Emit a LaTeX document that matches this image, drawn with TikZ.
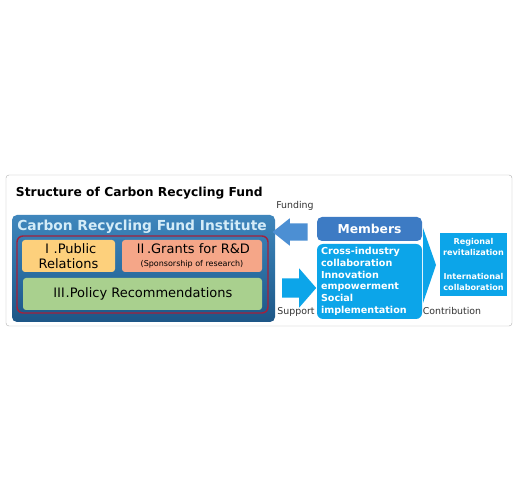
\documentclass[tikz,border=0pt]{standalone}
\usepackage{fontspec}
\setmainfont{DejaVu Sans}
\newfontfamily\jpfont{Noto Sans CJK JP}
\usetikzlibrary{shapes.arrows,positioning,calc}

\definecolor{framegray}{HTML}{B0B0B0}
\definecolor{instdark}{HTML}{1D5686}
\definecolor{instmid}{HTML}{2C70A4}
\definecolor{instlight}{HTML}{3F86BC}
\definecolor{insttext}{HTML}{D4ECF8}
\definecolor{redline}{HTML}{A3213C}
\definecolor{prfill}{HTML}{FDD07C}
\definecolor{grantfill}{HTML}{F5A688}
\definecolor{policyfill}{HTML}{A9D08E}
\definecolor{memberblue}{HTML}{3D7BC4}
\definecolor{fundblue}{HTML}{4C8FD3}
\definecolor{skyblue}{HTML}{0CA5E9}
\definecolor{labelgray}{HTML}{333333}

\begin{document}
\begin{tikzpicture}[
    x=1pt, y=-1pt,
    every node/.style={inner sep=0pt, outer sep=0pt},
    pillar/.style={rectangle, rounded corners=3pt, align=center, text=black,
                   font=\fontsize{13}{15.5}\selectfont},
    bluebox/.style={rectangle, rounded corners=6pt, fill=skyblue, text=white},
    flowlabel/.style={text=labelgray, font=\fontsize{9.4}{11}\selectfont},
    blockarrow/.style={single arrow, single arrow head indent=0pt, draw=none, inner xsep=0pt}
]
\useasboundingbox (0,0) rectangle (519,502);

% ============ FRAME AND TITLE ============
\draw[framegray, fill=white, rounded corners=3pt] (6,175) rectangle (512,326);
\node[anchor=west, font=\bfseries\fontsize{12.3}{14}\selectfont] (title) at (16,193)
    {Structure of Carbon Recycling Fund};

% ============ INSTITUTE (LEFT) ============
\node[rectangle, rounded corners=5pt, minimum width=263pt, minimum height=107pt,
      top color=instlight, bottom color=instdark, middle color=instmid]
      (institute) at (143.5,268.5) {};
\node[font=\bfseries\fontsize{13.8}{16}\selectfont, text=insttext] (insttitle)
    at (142,227) {Carbon Recycling Fund Institute};

\node[pillar, fill=prfill, minimum width=93pt, minimum height=32pt] (pr) at (68.5,256)
    {{\jpfont Ⅰ}.Public\\Relations};
\node[pillar, fill=grantfill, minimum width=140pt, minimum height=32pt] (grants) at (192,256)
    {{\jpfont Ⅱ}.Grants for R\&D\\[-2.5pt]{\fontsize{8}{9}\selectfont (Sponsorship of research)}};
\node[pillar, fill=policyfill, minimum width=239pt, minimum height=32pt] (policy) at (142.5,294)
    {{\jpfont Ⅲ}.Policy Recommendations};

\draw[redline, line width=1.4pt, rounded corners=6pt] (17,236) rectangle (268,313);

% ============ FUNDING / SUPPORT ARROWS ============
\node[blockarrow, fill=fundblue, shape border rotate=180, minimum height=35pt,
      inner ysep=8.5pt, single arrow head extend=5pt, single arrow tip angle=77]
      (fundarrow) at (295.5,232) {};
\node[flowlabel] (fundlabel) at (295,206) {Funding};

\node[blockarrow, fill=skyblue, minimum height=34pt,
      inner ysep=9.5pt, single arrow head extend=10pt, single arrow tip angle=98]
      (supparrow) at (295,288) {};
\node[flowlabel] (supplabel) at (296,312) {Support};

% ============ MEMBERS (MIDDLE) ============
\node[rectangle, rounded corners=5pt, fill=memberblue, text=white,
      minimum width=105pt, minimum height=24pt,
      font=\bfseries\fontsize{12.3}{14}\selectfont] (members) at (369.5,229) {Members};
\node[bluebox, minimum width=105pt, minimum height=75pt, below=3pt of members] (roles) {};
\node[anchor=north west, align=left, text=white,
      font=\bfseries\fontsize{9.6}{11.7}\selectfont] (roletext) at (321,247.5)
    {Cross-industry\\collaboration\\Innovation\\empowerment\\Social\\implementation};

% ============ CONTRIBUTION (RIGHT) ============
\coordinate (chevtop) at (423,228);
\coordinate (chevbot) at (423,303);
\coordinate (chevtip) at (436,265);
\fill[skyblue] (chevtop) -- (chevtip) -- (chevbot) -- cycle;
\node[flowlabel] (contlabel) at (452,311) {Contribution};

\node[rectangle, fill=skyblue, text=white, align=center, minimum width=67pt,
      minimum height=63pt, font=\bfseries\fontsize{8.1}{11.6}\selectfont]
      (outcome) at (473.5,264.5)
    {Regional\\revitalization\\[11.6pt]International\\collaboration};

\end{tikzpicture}
\end{document}
